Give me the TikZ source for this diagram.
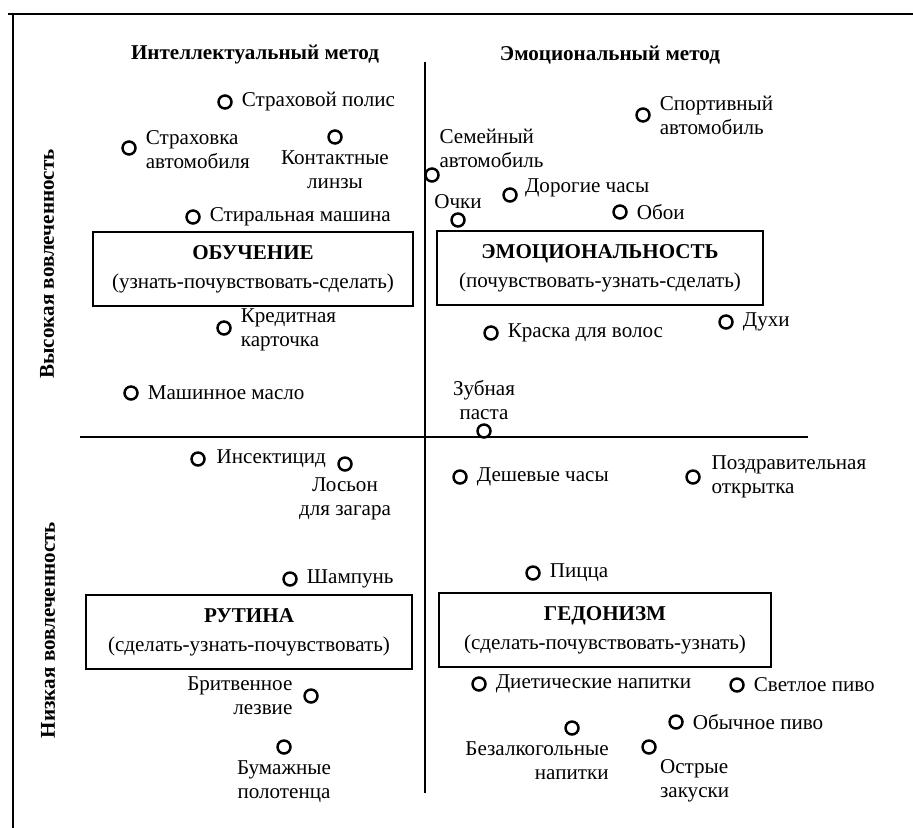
\documentclass[tikz,border=0pt]{standalone}
\usepackage{fontspec}
\setmainfont{Liberation Serif}
\usetikzlibrary{positioning}

\tikzset{
  pnt/.style={circle, draw, line width=1.4pt, minimum size=0.26cm, inner sep=0pt},
  lbl/.style={inner sep=1pt, align=left, font=\fontsize{12}{13.6}\selectfont},
  quad/.style={draw, line width=1pt, minimum height=1.48cm, align=center, inner sep=2pt, font=\fontsize{12}{13.6}\selectfont},
  hdr/.style={inner sep=1pt, font=\fontsize{12}{13.6}\selectfont\bfseries},
}

\begin{document}
\begin{tikzpicture}[x=0.02cm, y=-0.02cm]  % 以像素为单位

    \useasboundingbox (0,0) rectangle (913,828);

    % 绘制外框（上边和左边）
    \draw[line width=1pt] (8,14) -- (913,14);
    \draw[line width=1pt] (13,14) -- (13,828);

    % 绘制坐标轴
    \draw[line width=1pt] (425,62) -- (425,793); % 竖轴
    \draw[line width=1pt] (80,437) -- (808,437); % 横轴

    % 标题
    \node[hdr] (intel) at (255,55) {Интеллектуальный метод};
    \node[hdr] (emoc) at (610,55) {Эмоциональный метод};
    \node[hdr, rotate=90] (vys) at (47,264) {Высокая вовлеченность};
    \node[hdr, rotate=90] (niz) at (48,630) {Низкая вовлеченность};

    % 四个方框
    \node[quad, minimum width=6.4cm] (obuch) at (253,269) {\textbf{ОБУЧЕНИЕ}\\[3pt](узнать-почувствовать-сделать)};
    \node[quad, minimum width=6.52cm] (emocbox) at (600,268) {\textbf{ЭМОЦИОНАЛЬНОСТЬ}\\[3pt](почувствовать-узнать-сделать)};
    \node[quad, minimum width=6.52cm] (rutina) at (249,632) {\textbf{РУТИНА}\\[3pt](сделать-узнать-почувствовать)};
    \node[quad, minimum width=6.64cm] (gedon) at (605,630) {\textbf{ГЕДОНИЗМ}\\[3pt](сделать-почувствовать-узнать)};

    % 左上象限
    \node[pnt] (polis) at (225,102) {};
    \node[lbl, right=4pt of polis] (polis-t) {Страховой полис};
    \node[pnt] (strakh) at (129,148) {};
    \node[lbl, right=4pt of strakh, yshift=-1pt] (strakh-t) {Страховка\\автомобиля};
    \node[pnt] (linzy) at (335,137) {};
    \node[lbl, below=2pt of linzy, align=center] (linzy-t) {Контактные\\линзы};
    \node[pnt] (stiralka) at (193,217) {};
    \node[lbl, right=4pt of stiralka] (stiralka-t) {Стиральная машина};
    \node[pnt] (kredit) at (224,328) {};
    \node[lbl, right=4pt of kredit, yshift=-1pt] (kredit-t) {Кредитная\\карточка};
    \node[pnt] (maslo) at (131,393) {};
    \node[lbl, right=4pt of maslo] (maslo-t) {Машинное масло};

    % 右上象限
    \node[pnt] (sport) at (643,115) {};
    \node[lbl, right=4pt of sport] (sport-t) {Спортивный\\автомобиль};
    \node[pnt] (semavto) at (432,175) {};
    \node[lbl, above right=0pt and 0pt of semavto] (semavto-t) {Семейный\\автомобиль};
    \node[pnt] (chasy) at (510,195) {};
    \node[lbl, right=3pt of chasy, yshift=4pt] (chasy-t) {Дорогие часы};
    \node[pnt] (ochki) at (458,220) {};
    \node[lbl, above=1pt of ochki] (ochki-t) {Очки};
    \node[pnt] (oboi) at (620,212) {};
    \node[lbl, right=4pt of oboi] (oboi-t) {Обои};
    \node[pnt] (kraska) at (491,333) {};
    \node[lbl, right=4pt of kraska] (kraska-t) {Краска для волос};
    \node[pnt] (dukhi) at (726,322) {};
    \node[lbl, right=4pt of dukhi] (dukhi-t) {Духи};
    \node[pnt] (pasta) at (484,431) {};
    \node[lbl, above=1pt of pasta, align=center] (pasta-t) {Зубная\\паста};

    % 左下象限
    \node[pnt] (insekt) at (198,459) {};
    \node[lbl, right=5pt of insekt] (insekt-t) {Инсектицид};
    \node[pnt] (loson) at (345,464) {};
    \node[lbl, below=2pt of loson, align=center] (loson-t) {Лосьон\\для загара};
    \node[pnt] (shampun) at (290,579) {};
    \node[lbl, right=4pt of shampun] (shampun-t) {Шампунь};
    \node[pnt] (britva) at (311,696) {};
    \node[lbl, left=5pt of britva, align=right] (britva-t) {Бритвенное\\лезвие};
    \node[pnt] (polotentsa) at (284,747) {};
    \node[lbl, below=2pt of polotentsa, align=center] (polotentsa-t) {Бумажные\\полотенца};

    % 右下象限
    \node[pnt] (deshchasy) at (460,477) {};
    \node[lbl, right=4pt of deshchasy] (deshchasy-t) {Дешевые часы};
    \node[pnt] (otkrytka) at (693,477) {};
    \node[lbl, right=5pt of otkrytka] (otkrytka-t) {Поздравительная\\открытка};
    \node[pnt] (pitstsa) at (533,573) {};
    \node[lbl, right=4pt of pitstsa] (pitstsa-t) {Пицца};
    \node[pnt] (dieta) at (479,684) {};
    \node[lbl, right=4pt of dieta] (dieta-t) {Диетические напитки};
    \node[pnt] (svetloe) at (737,685) {};
    \node[lbl, right=4pt of svetloe] (svetloe-t) {Светлое пиво};
    \node[pnt] (obychnoe) at (676,722) {};
    \node[lbl, right=4pt of obychnoe] (obychnoe-t) {Обычное пиво};
    \node[pnt] (bezalk) at (572,728) {};
    \node[lbl, below=2pt of bezalk, xshift=-0.7cm, align=right] (bezalk-t) {Безалкогольные\\напитки};
    \node[pnt] (ostrye) at (649,747) {};
    \node[lbl, below right=3pt and 2pt of ostrye] (ostrye-t) {Острые\\закуски};

\end{tikzpicture}
\end{document}
